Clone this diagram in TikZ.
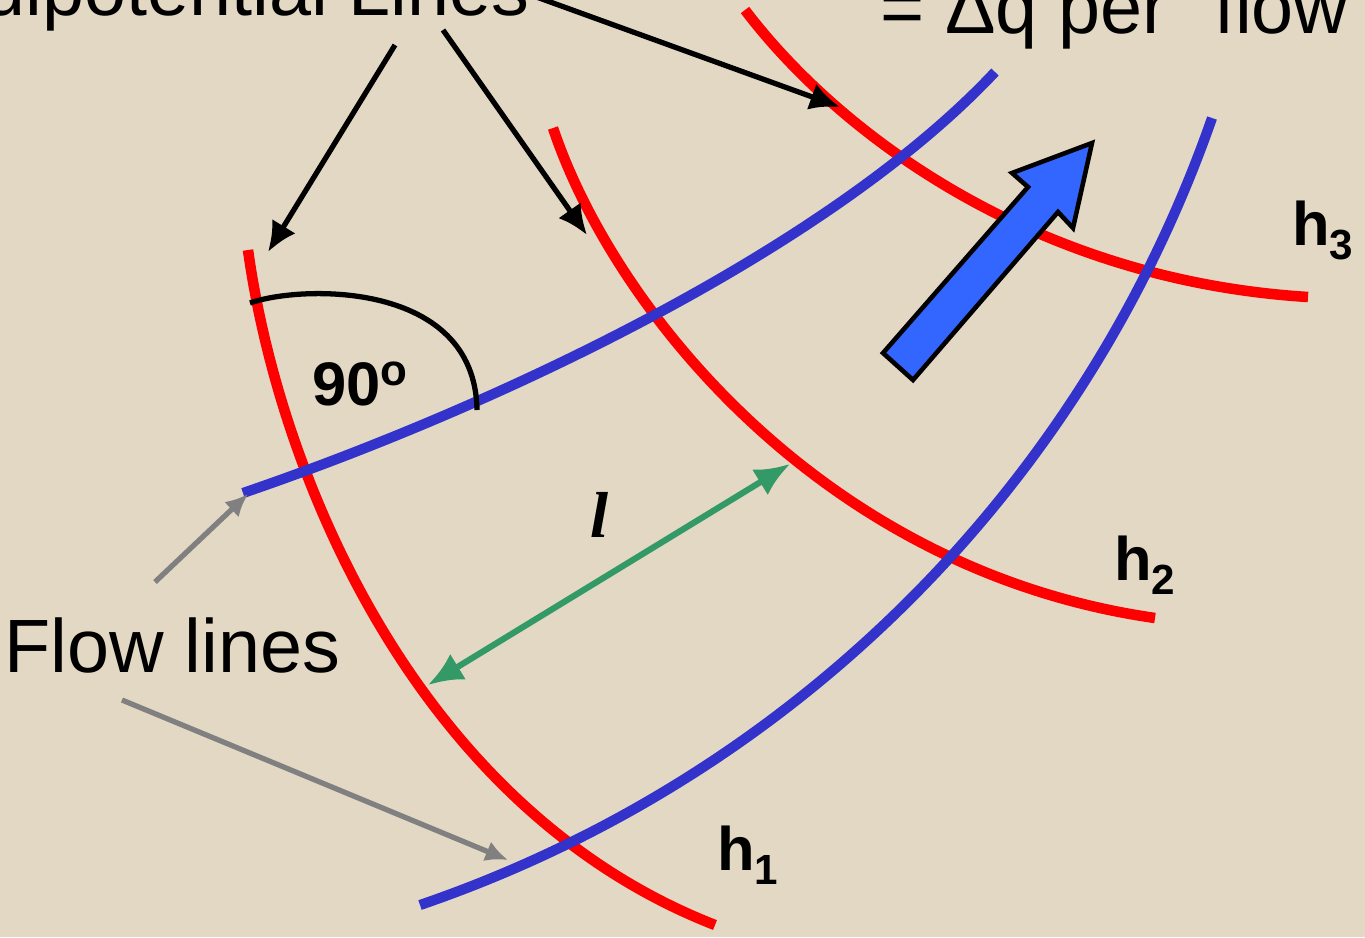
\documentclass[tikz,border=0pt]{standalone}
\usepackage{fontspec}
\setmainfont{Liberation Sans}
\newfontfamily\serifbi{Liberation Serif}
\usetikzlibrary{arrows.meta}

\definecolor{paper}{RGB}{226,216,196}
\definecolor{flowblue}{RGB}{51,51,204}
\definecolor{bigblue}{RGB}{51,102,255}
\definecolor{lgreen}{RGB}{51,153,102}

\newcommand{\hsub}[1]{\raisebox{-8pt}{\fontsize{24}{28}\selectfont #1}}

\begin{document}
\begin{tikzpicture}[x=0.02cm,y=-0.02cm,>=Latex,
  redline/.style={draw=red,line width=6pt},
  blueline/.style={draw=flowblue,line width=5.8pt},
  pointer/.style={draw=black,line width=3pt,-{Latex[length=0.6cm,width=0.55cm]}},
  greypointer/.style={draw=gray,line width=3pt,-{Latex[length=0.45cm,width=0.42cm]}},
  bigtext/.style={font=\fontsize{43}{48}\selectfont,inner sep=0},
  hlabel/.style={font=\fontsize{35}{40}\selectfont\bfseries,inner sep=0,anchor=base west}]
\fill[paper] (0,0) rectangle (1365,937);
\useasboundingbox (0,0) rectangle (1365,937);
\clip (0,0) rectangle (1365,937);

% equipotentials
\draw[redline] (248,250) .. controls (280,480) and (420,810) .. (715,925);
\draw[redline] (553,128) .. controls (612,305) and (820,570) .. (1155,618);
\draw[redline] (745,10) .. controls (840,135) and (1035,280) .. (1308,297);

% flow lines
\draw[blueline] (243,493) .. controls (500,405) and (830,248) .. (995,72);
\draw[blueline] (420,905) .. controls (791,778) and (1083,488) .. (1212,118);

% flow direction
\draw[fill=bigblue,draw=black,line width=2.6pt,line join=miter]
  (883,353) -- (913,380) -- (1058,212) -- (1073,228) -- (1092,143) -- (1012,173) -- (1028,187) -- cycle;

% right angle
\draw[line width=3pt] (250,303) .. controls (300,285) and (475,280) .. (477,410);

% labels
\node[bigtext,anchor=base east] (eq) at (530,15) {Equipotential Lines};
\node[bigtext,anchor=base west] (dq) at (880,33) {= Δq per “flow”};
\node[bigtext,anchor=base west] (fl) at (4,672) {Flow lines};
\node[hlabel] (h1) at (717,870) {h\hsub{1}};
\node[hlabel] (h2) at (1114,580) {h\hsub{2}};
\node[hlabel] (h3) at (1292,245) {h\hsub{3}};
\node[hlabel] (ang) at (312,405) {90\raisebox{11pt}{\fontsize{25}{28}\selectfont o}};
\node[font=\serifbi\bfseries\itshape\fontsize{37}{40}\selectfont,inner sep=0,anchor=base] (len) at (600,537) {l};

% pointer ends
\coordinate (eqa) at (395,45);
\coordinate (eqb) at (443,30);
\coordinate (eqc) at (531,-5);
\coordinate (t1) at (268,252);
\coordinate (t2) at (587,235);
\coordinate (t3) at (840,107);
\coordinate (fla) at (155,582);
\coordinate (flb) at (122,700);
\coordinate (fe1) at (248,494);
\coordinate (fe2) at (508,860);
\coordinate (la) at (428,685);
\coordinate (lb) at (790,464);

\draw[pointer] (eqa) -- (t1);
\draw[pointer] (eqb) -- (t2);
\draw[pointer] (eqc) -- (t3);
\draw[greypointer] (fla) -- (fe1);
\draw[greypointer] (flb) -- (fe2);
\draw[draw=lgreen,line width=3.5pt,{Latex[length=0.7cm,width=0.6cm]}-{Latex[length=0.7cm,width=0.6cm]}] (la) -- (lb);
\end{tikzpicture}
\end{document}
